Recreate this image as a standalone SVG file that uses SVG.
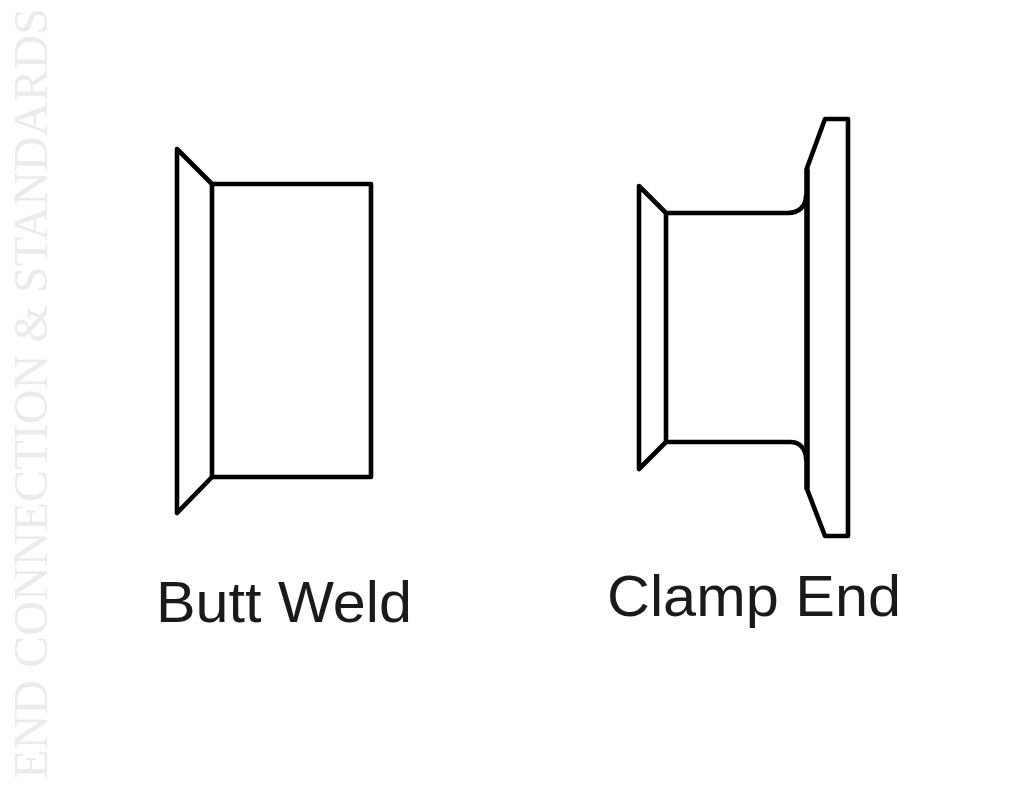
<svg xmlns="http://www.w3.org/2000/svg" width="1014" height="792" viewBox="0 0 1014 792">
<style>
.l{fill:none;stroke:#000;stroke-width:4.6;stroke-linejoin:round;stroke-linecap:round}
.t{font-family:"Liberation Sans",Arial,sans-serif;font-size:58px;fill:#1a1a1a}
.w{font-family:"Liberation Serif","Times New Roman",serif;font-size:48.2px;fill:#ebebeb}
</style>
<rect width="1014" height="792" fill="#fff"/>
<text class="w" transform="translate(47,779) rotate(-90)">END CONNECTION &amp; STANDARDS</text>
<g id="butt-weld">
<path class="l" d="M177 149L212 184V477L177 513Z"/>
<path class="l" d="M212 184H371V477H212"/>
<text class="t" x="156" y="622" textLength="256" lengthAdjust="spacingAndGlyphs">Butt Weld</text>
</g>
<g id="clamp-end">
<path class="l" d="M639 186L666 213V442L639 469Z"/>
<path class="l" d="M666 213H788C799 213 806 206 806 196"/>
<path class="l" d="M666 442H790C800 442 806 449 806 459"/>
<path class="l" d="M807 168L825 119H848V536H825L807 489Z"/>
<path class="l" d="M807 170V488" style="stroke-width:5.4"/>
<text class="t" x="607" y="616" textLength="294" lengthAdjust="spacingAndGlyphs">Clamp End</text>
</g>
</svg>
